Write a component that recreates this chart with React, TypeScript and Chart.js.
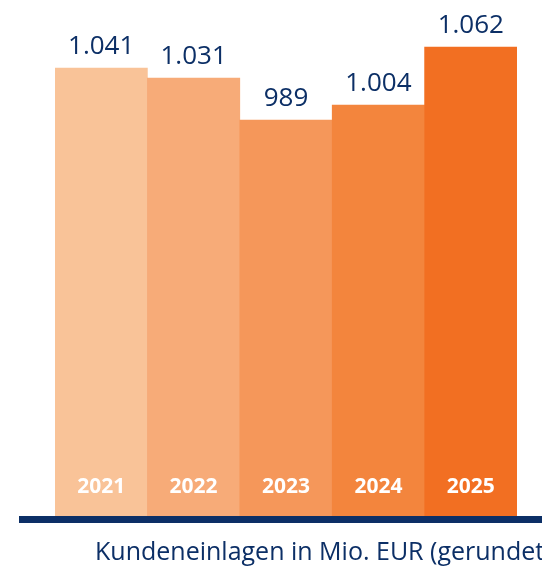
import React, { useEffect, useRef } from "react";
import { Chart, registerables } from "chart.js";

Chart.register(...registerables);

const years = ["2021", "2022", "2023", "2024", "2025"];
const deposits = [1041, 1031, 989, 1004, 1062];
const valueLabels = ["1.041", "1.031", "989", "1.004", "1.062"];
const barColors = ["#f9c398", "#f7ab78", "#f5975a", "#f3853d", "#f26f22"];
const caption = "Kundeneinlagen in Mio. EUR (gerundet)";

const NAVY = "#0c2f66";
const FONT = "'Open Sans', 'Noto Sans', sans-serif";

const decorPlugin = {
  id: "decor",
  afterDatasetsDraw(chart: any) {
    const ctx = chart.ctx;
    const meta = chart.getDatasetMeta(0);
    const area = chart.chartArea;
    ctx.save();
    // value labels above bars
    ctx.fillStyle = NAVY;
    ctx.font = `26px ${FONT}`;
    ctx.textAlign = "center";
    ctx.textBaseline = "alphabetic";
    meta.data.forEach((bar: any, i: number) => {
      ctx.fillText(valueLabels[i], bar.x, bar.y - 14);
    });
    // year labels inside bars
    ctx.fillStyle = "#ffffff";
    ctx.font = `bold 21px ${FONT}`;
    ctx.textBaseline = "middle";
    meta.data.forEach((bar: any, i: number) => {
      ctx.fillText(years[i], bar.x, area.bottom - 29);
    });
    // baseline
    ctx.fillStyle = NAVY;
    ctx.fillRect(19, area.bottom, chart.width - 19, 7);
    // caption
    ctx.fillStyle = NAVY;
    ctx.font = `25px ${FONT}`;
    ctx.textAlign = "left";
    ctx.textBaseline = "alphabetic";
    ctx.fillText(caption, 95, 560);
    ctx.restore();
  },
};

export default function App() {
  const ref = useRef<HTMLCanvasElement | null>(null);
  useEffect(() => {
    document.body.style.margin = "0";
    const chart = new Chart(ref.current as HTMLCanvasElement, {
      type: "bar",
      data: {
        labels: years,
        datasets: [
          {
            data: deposits,
            backgroundColor: barColors,
            borderWidth: 0,
            barPercentage: 1,
            categoryPercentage: 1,
          },
        ],
      },
      options: {
        responsive: false,
        animation: false,
        layout: { padding: { left: 55, right: 25, top: 9, bottom: 52 } },
        plugins: { legend: { display: false }, tooltip: { enabled: false } },
        scales: {
          x: { display: false },
          y: { display: false, min: 593, max: 1100 },
        },
      },
      plugins: [decorPlugin],
    });
    return () => chart.destroy();
  }, []);
  return <canvas ref={ref} width={542} height={568} style={{ display: "block" }} />;
}
